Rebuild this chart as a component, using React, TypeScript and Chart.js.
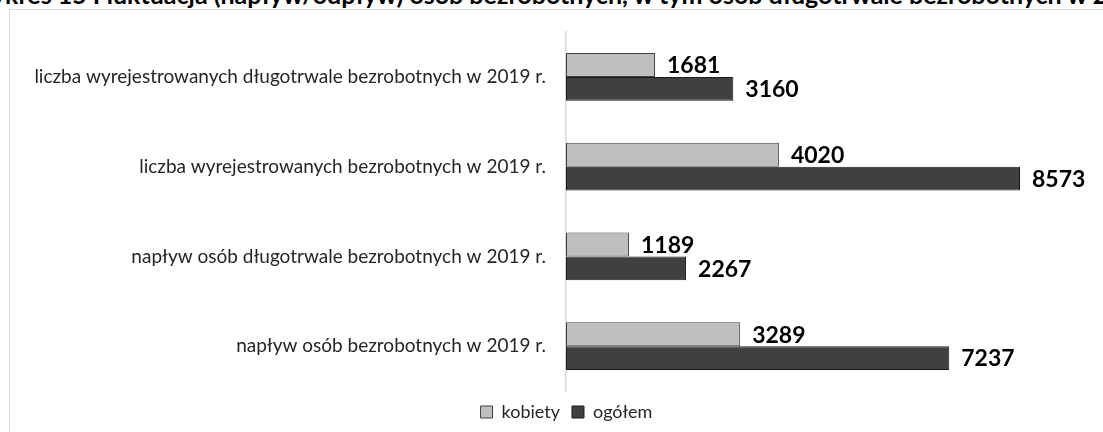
import React, { useEffect, useRef } from "react";
import { Chart, registerables } from "chart.js";

Chart.register(...registerables);

const titleText =
  "Wykres 15 Fluktuacja (napływ/odpływ) osób bezrobotnych, w tym osób długotrwale bezrobotnych w 2019 r.";
const categories = [
  "liczba wyrejestrowanych długotrwale bezrobotnych w 2019 r.",
  "liczba wyrejestrowanych bezrobotnych w 2019 r.",
  "napływ osób długotrwale bezrobotnych w 2019 r.",
  "napływ osób bezrobotnych w 2019 r.",
];
const seriesNames = ["kobiety", "ogółem"];
const kobiety = [1681, 4020, 1189, 3289];
const ogolem = [3160, 8573, 2267, 7237];

const FONT = "Lato, 'Open Sans', sans-serif";

const valueLabels = {
  id: "valueLabels",
  afterDatasetsDraw(chart: any) {
    const ctx = chart.ctx;
    ctx.save();
    ctx.font = `bold 23px ${FONT}`;
    ctx.fillStyle = "#000000";
    ctx.textAlign = "left";
    ctx.textBaseline = "middle";
    chart.data.datasets.forEach((ds: any, i: number) => {
      const meta = chart.getDatasetMeta(i);
      meta.data.forEach((el: any, j: number) => {
        ctx.fillText(String(ds.data[j]), el.x + 12, el.y + 1);
      });
    });
    ctx.restore();
  },
};

export default function App() {
  const ref = useRef<HTMLCanvasElement>(null);
  useEffect(() => {
    if (!ref.current) return;
    const chart = new Chart(ref.current, {
      type: "bar",
      data: {
        labels: categories,
        datasets: [
          {
            label: seriesNames[0],
            data: kobiety,
            backgroundColor: "#bfbfbf",
            borderColor: "#404040",
            borderWidth: 1,
            borderSkipped: false,
          },
          {
            label: seriesNames[1],
            data: ogolem,
            backgroundColor: "#404040",
            borderColor: "#1a1a1a",
            borderWidth: 1,
            borderSkipped: false,
          },
        ],
      },
      options: {
        indexAxis: "y",
        animation: false,
        responsive: false,
        maintainAspectRatio: false,
        layout: { padding: { top: 32, left: 30, right: 0, bottom: 1 } },
        datasets: {
          bar: { categoryPercentage: 0.53, barPercentage: 1.0 },
        },
        scales: {
          x: {
            display: false,
            min: 0,
            max: 10140,
          },
          y: {
            grid: { display: false },
            border: { display: true, color: "#d9d9d9", width: 1.5 },
            ticks: {
              color: "#262626",
              font: { family: FONT, size: 19 },
              padding: 12,
            },
            afterFit: (s: any) => {
              s.width = 536;
            },
          },
        },
        plugins: {
          legend: {
            position: "bottom",
            labels: {
              boxWidth: 12,
              boxHeight: 12,
              color: "#262626",
              font: { family: FONT, size: 18 },
              padding: 12,
            },
          },
          tooltip: { enabled: false },
        },
      },
      plugins: [valueLabels],
    });
    return () => chart.destroy();
  }, []);

  return (
    <div
      style={{
        position: "fixed",
        left: 0,
        top: 0,
        width: 1103,
        height: 432,
        overflow: "hidden",
        background: "#ffffff",
      }}
    >
      <div
        style={{
          position: "absolute",
          left: -34,
          top: -21,
          whiteSpace: "nowrap",
          fontFamily: FONT,
          fontWeight: "bold",
          fontSize: 25,
          color: "#000",
        }}
      >
        {titleText}
      </div>
      <div
        style={{
          position: "absolute",
          left: 9,
          top: 9,
          width: 1200,
          height: 600,
          border: "1.5px solid #d9d9d9",
          boxSizing: "border-box",
          background: "#ffffff",
        }}
      />
      <canvas
        ref={ref}
        width={1103}
        height={432}
        style={{ position: "absolute", left: 0, top: 0 }}
      />
    </div>
  );
}
